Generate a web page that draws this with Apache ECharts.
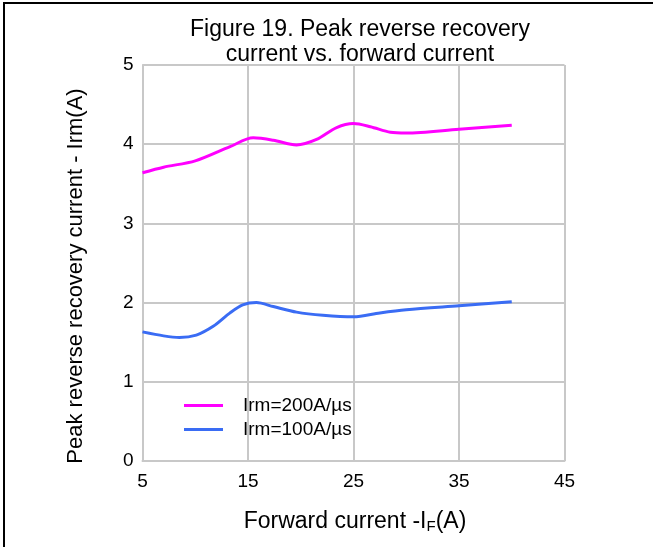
<!DOCTYPE html>
<html>
<head>
<meta charset="utf-8">
<script src="https://cdn.jsdelivr.net/npm/echarts@6/dist/echarts.min.js"></script>
<style>
  html, body { margin: 0; padding: 0; background: #fff; }
  #chart { width: 653px; height: 547px; }
</style>
</head>
<body>
<div id="chart"></div>
<script>
// Peak reverse recovery current vs. forward current
const xTicks = [5, 15, 25, 35, 45];
const yTicks = [0, 1, 2, 3, 4, 5];

// Irm = 200 A/µs curve: forward current (A), peak reverse recovery current (A)
const if200 = [5, 7, 10, 13.3, 15.5, 17.4, 19.6, 21.5, 23.4, 25, 26.6, 28.5, 30, 35, 40];
const irm200 = [3.64, 3.71, 3.79, 3.97, 4.08, 4.05, 3.99, 4.06, 4.21, 4.26, 4.22, 4.15, 4.14, 4.19, 4.24];

// Irm = 100 A/µs curve
const if100 = [5, 7, 8.5, 10.1, 11.7, 13.3, 14.5, 15.8, 17.4, 19.6, 22.1, 25, 27.5, 30, 35, 40];
const irm100 = [1.63, 1.58, 1.56, 1.59, 1.70, 1.87, 1.97, 2.00, 1.95, 1.88, 1.84, 1.82, 1.87, 1.91, 1.96, 2.01];

const seriesNames = ['Irm=200A/\u00b5s', 'Irm=100A/\u00b5s'];

const pairs = (xs, ys) => xs.map((x, i) => [x, ys[i]]);

const FONT = '"Liberation Sans", Arial, sans-serif';
const GRID_COLOR = '#c8c8c8';

const chart = echarts.init(document.getElementById('chart'), null, { renderer: 'canvas' });

chart.setOption({
  animation: false,
  backgroundColor: '#fff',
  textStyle: { fontFamily: FONT },
  title: {
    text: 'Figure 19. Peak reverse recovery\ncurrent vs. forward current',
    left: 355,
    top: 12,
    textAlign: 'center',
    textStyle: { fontFamily: FONT, fontSize: 23, fontWeight: 'normal', color: '#000', lineHeight: 25 }
  },
  grid: { left: 142.5, right: 88.5, top: 65, bottom: 86, containLabel: false },
  legend: {
    orient: 'vertical',
    left: 179,
    top: 391,
    icon: 'rect',
    itemWidth: 39,
    itemHeight: 3,
    itemGap: 5,
    data: seriesNames,
    textStyle: { fontFamily: FONT, fontSize: 19, color: '#000', padding: [0, 0, 0, 15] }
  },
  xAxis: {
    type: 'value',
    min: xTicks[0],
    max: xTicks[xTicks.length - 1],
    interval: 10,
    axisLine: { show: true, lineStyle: { color: GRID_COLOR, width: 2 } },
    axisTick: { show: false },
    axisLabel: { fontFamily: FONT, fontSize: 19, color: '#000', margin: 11 },
    splitLine: { show: true, lineStyle: { color: GRID_COLOR, width: 2 } }
  },
  yAxis: {
    type: 'value',
    min: yTicks[0],
    max: yTicks[yTicks.length - 1],
    interval: 1,
    axisLine: { show: true, lineStyle: { color: GRID_COLOR, width: 2 } },
    axisTick: { show: false },
    axisLabel: { fontFamily: FONT, fontSize: 19, color: '#000', margin: 9 },
    splitLine: { show: true, lineStyle: { color: GRID_COLOR, width: 2 } }
  },
  graphic: [
    {
      type: 'text',
      x: 76,
      y: 276,
      rotation: Math.PI / 2,
      style: {
        text: 'Peak reverse recovery current - Irm(A)',
        font: '22px ' + FONT,
        fill: '#000',
        align: 'center',
        verticalAlign: 'middle'
      }
    },
    {
      type: 'text',
      x: 355,
      y: 522,
      style: {
        text: '{n|Forward current -I}{s|F}{n|(A)}',
        align: 'center',
        verticalAlign: 'middle',
        rich: {
          n: { fontFamily: FONT, fontSize: 23, fill: '#000', color: '#000' },
          s: { fontFamily: FONT, fontSize: 15, fill: '#000', color: '#000', padding: [9, 0, 0, 0] }
        }
      }
    },
    {
      type: 'line',
      shape: { x1: 4, y1: 3, x2: 4, y2: 547 },
      style: { stroke: '#000', lineWidth: 2 }
    },
    {
      type: 'line',
      shape: { x1: 3, y1: 3, x2: 653, y2: 3 },
      style: { stroke: '#000', lineWidth: 2 }
    }
  ],
  series: [
    {
      name: seriesNames[0],
      type: 'line',
      data: pairs(if200, irm200),
      smooth: 0.3,
      showSymbol: false,
      lineStyle: { color: '#ff00ff', width: 3 },
      itemStyle: { color: '#ff00ff' }
    },
    {
      name: seriesNames[1],
      type: 'line',
      data: pairs(if100, irm100),
      smooth: 0.3,
      showSymbol: false,
      lineStyle: { color: '#3a6cf4', width: 3 },
      itemStyle: { color: '#3a6cf4' }
    }
  ]
});
</script>
</body>
</html>
